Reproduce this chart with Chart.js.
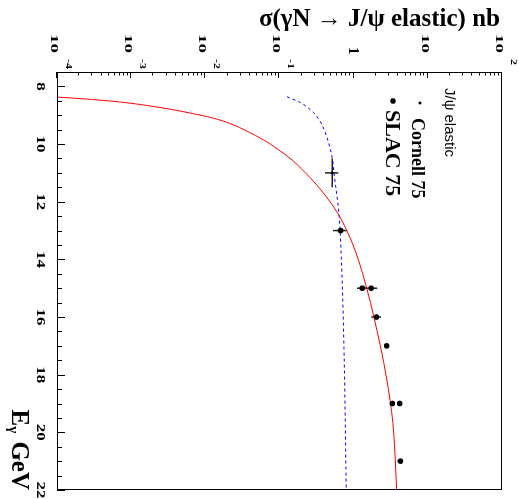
<!DOCTYPE html>
<html>
<head>
<meta charset="utf-8">
<script src="https://cdn.jsdelivr.net/npm/chart.js@4.4.0/dist/chart.umd.min.js"></script>
<style>
  html, body { margin: 0; padding: 0; background: #fff; }
  #wrap { position: relative; width: 519px; height: 499px; overflow: hidden; }
  /* the ROOT figure is printed turned a quarter clockwise */
  #plot { position: absolute; left: 0; top: 0; transform-origin: 0 0; transform: translateX(519px) rotate(90deg); }
</style>
</head>
<body>
<div id="wrap"><canvas id="plot" width="499" height="519"></canvas></div>
<script>
// photon energy axis (GeV) and cross-section decades (nb)
var eTicks = [8, 10, 12, 14, 16, 18, 20, 22];
var sigmaDecades = [-4, -3, -2, -1, 0, 1, 2];

// fit curves
var redE     = [8.37, 8.43, 8.53, 8.68, 8.88, 9.14, 9.6, 10.41, 11.0, 11.63, 12.38, 12.96, 13.7, 15.0, 16.0, 17.0, 18.15, 19.65, 22.0];
var redSigma = [1.0e-4, 2.24e-4, 6.46e-4, 1.82e-3, 5.13e-3, 1.45e-2, 3.98e-2, 0.126, 0.224, 0.372, 0.603, 0.794, 1.05, 1.50, 1.87, 2.29, 2.79, 3.37, 3.80];
var blueE     = [8.36, 8.56, 8.91, 9.14, 9.49, 10.47, 11.0, 12.38, 14.0, 17.1, 22.0];
var blueSigma = [0.126, 0.191, 0.288, 0.339, 0.398, 0.513, 0.542, 0.631, 0.682, 0.740, 0.794];

// measurements
var cornellE = [11];
var cornellSigma = [0.515];
var cornellSigErr = [0.105];
var cornellEErr = [0.5];
var slacE = [13, 15, 15, 16, 17, 19, 19, 21];
var slacSigma = [0.667, 1.31, 1.73, 2.03, 2.79, 3.33, 4.19, 4.27];
var slacSigErr = [0.14, 0.2, 0.35, 0.3, 0, 0, 0, 0];

function pts(xs, ys) {
    return xs.map(function(x, i) { return {x: x, y: ys[i]}; });
}

var serif = '"Liberation Serif", "Times New Roman", serif';

function squash(ctx, txt, x, y, sy) {
    ctx.save();
    ctx.translate(x, y);
    ctx.scale(1, sy);
    ctx.fillText(txt, 0, 0);
    ctx.restore();
}

var rootStyle = {
    id: 'rootStyle',
    beforeDatasetsDraw: function(chart) {
        var ctx = chart.ctx, xs = chart.scales.x, ys = chart.scales.y, a = chart.chartArea;
        ctx.save();
        ctx.beginPath();
        ctx.rect(a.left, a.top, a.right - a.left, a.bottom - a.top);
        ctx.clip();
        ctx.strokeStyle = '#222';
        ctx.lineWidth = 1.5;
        function bars(E, S, sErr, eErr) {
            for (var i = 0; i < E.length; i++) {
                var px = xs.getPixelForValue(E[i]), py = ys.getPixelForValue(S[i]);
                ctx.beginPath();
                if (sErr[i] > 0) {
                    ctx.moveTo(px, ys.getPixelForValue(S[i] - sErr[i]));
                    ctx.lineTo(px, ys.getPixelForValue(S[i] + sErr[i]));
                }
                if (eErr && eErr[i] > 0) {
                    ctx.moveTo(xs.getPixelForValue(E[i] - eErr[i]), py);
                    ctx.lineTo(xs.getPixelForValue(E[i] + eErr[i]), py);
                }
                ctx.stroke();
            }
        }
        bars(cornellE, cornellSigma, cornellSigErr, cornellEErr);
        bars(slacE, slacSigma, slacSigErr, null);
        ctx.restore();
    },
    afterDraw: function(chart) {
        var ctx = chart.ctx, xs = chart.scales.x, ys = chart.scales.y, a = chart.chartArea;
        ctx.save();
        ctx.fillStyle = '#000';
        ctx.strokeStyle = '#000';
        ctx.lineWidth = 1;

        // frame
        ctx.strokeRect(a.left + 0.5, a.top + 0.5, a.right - a.left - 1, a.bottom - a.top - 1);

        // energy ticks, pointing inwards
        ctx.beginPath();
        for (var v = 7.5; v <= 22.001; v += 0.5) {
            var px = Math.round(xs.getPixelForValue(v)) + 0.5;
            var len = (v % 2 === 0) ? 8 : 5;
            ctx.moveTo(px, a.bottom);
            ctx.lineTo(px, a.bottom - len);
        }
        // log ticks
        for (var d = -4; d <= 2; d++) {
            for (var m = 1; m <= 9; m++) {
                var val = m * Math.pow(10, d);
                if (val > 100.001) break;
                var py = Math.round(ys.getPixelForValue(val)) + 0.5;
                ctx.moveTo(a.left, py);
                ctx.lineTo(a.left + (m === 1 ? 6 : 3.5), py);
            }
        }
        ctx.stroke();

        // energy labels
        ctx.font = 'bold 17px ' + serif;
        ctx.textAlign = 'center';
        ctx.textBaseline = 'alphabetic';
        eTicks.forEach(function(t) {
            squash(ctx, String(t), xs.getPixelForValue(t), a.bottom + 20, 0.7);
        });

        // cross-section labels
        sigmaDecades.forEach(function(dd) {
            var py = ys.getPixelForValue(Math.pow(10, dd));
            ctx.textAlign = 'left';
            if (dd === 0) {
                ctx.font = 'bold 15px ' + serif;
                ctx.fillText('1', 47, py + 5);
            } else {
                ctx.font = 'bold 19px ' + serif;
                squash(ctx, '10', 34, py + 6, 0.6);
                if (dd !== 1) {
                    ctx.font = 'bold 12px ' + serif;
                    squash(ctx, String(dd), 59, py - 9, 0.65);
                }
            }
        });

        // y title (reads along the axis)
        ctx.save();
        ctx.translate(26, 19);
        ctx.rotate(-Math.PI / 2);
        ctx.textAlign = 'right';
        ctx.font = 'bold 25px ' + serif;
        ctx.fillText('\u03c3(\u03b3N \u2192 J/\u03c8 elastic) nb', 0, 0);
        ctx.restore();

        // x title  E_gamma GeV
        ctx.textAlign = 'left';
        ctx.font = 'bold 25px ' + serif;
        var wE = ctx.measureText('E').width;
        var wG = ctx.measureText(' GeV').width;
        ctx.font = 'bold 15px ' + serif;
        var wSub = ctx.measureText('\u03b3').width;
        var x0 = a.right - wE - wSub - wG - 2;
        ctx.font = 'bold 25px ' + serif;
        ctx.fillText('E', x0, 507);
        ctx.font = 'bold 15px ' + serif;
        ctx.fillText('\u03b3', x0 + wE, 510);
        ctx.font = 'bold 25px ' + serif;
        ctx.fillText(' GeV', x0 + wE + wSub + 2, 507);

        // legend
        ctx.font = '15px "Liberation Sans", Arial, sans-serif';
        ctx.fillText('J/\u03c8 elastic', 88, 74);
        ctx.beginPath();
        ctx.arc(103, 99, 1.5, 0, Math.PI * 2);
        ctx.fill();
        ctx.font = 'bold 18px ' + serif;
        ctx.fillText('Cornell 75', 118, 107);
        ctx.beginPath();
        ctx.arc(101, 126, 2.8, 0, Math.PI * 2);
        ctx.fill();
        ctx.font = 'bold 22px ' + serif;
        ctx.fillText('SLAC 75', 110, 133);

        ctx.restore();
    }
};

var ctx = document.getElementById('plot');
var chart = new Chart(ctx, {
    type: 'scatter',
    data: {
        datasets: [{
            label: 'SLAC 75',
            data: pts(slacE, slacSigma),
            backgroundColor: '#000',
            borderColor: '#000',
            pointRadius: 2.8,
            pointBorderWidth: 0
        }, {
            label: 'Cornell 75',
            data: pts(cornellE, cornellSigma),
            backgroundColor: '#000',
            borderColor: '#000',
            pointRadius: 1.5,
            pointBorderWidth: 0
        }, {
            label: 'fit',
            data: pts(redE, redSigma),
            showLine: true,
            borderColor: '#ff0000',
            borderWidth: 1,
            pointRadius: 0,
            cubicInterpolationMode: 'monotone'
        }, {
            label: 'model',
            data: pts(blueE, blueSigma),
            showLine: true,
            borderColor: '#0000ff',
            borderWidth: 1,
            borderDash: [3, 3],
            pointRadius: 0,
            cubicInterpolationMode: 'monotone'
        }]
    },
    options: {
        responsive: false,
        animation: false,
        devicePixelRatio: 1,
        layout: { padding: { left: 72, right: 9, top: 17, bottom: 57 } },
        plugins: { legend: { display: false }, tooltip: { enabled: false } },
        scales: {
            x: { type: 'linear', min: 7.5, max: 22, display: false },
            y: { type: 'logarithmic', min: 1e-4, max: 100, display: false }
        }
    },
    plugins: [rootStyle]
});
</script>
</body>
</html>
